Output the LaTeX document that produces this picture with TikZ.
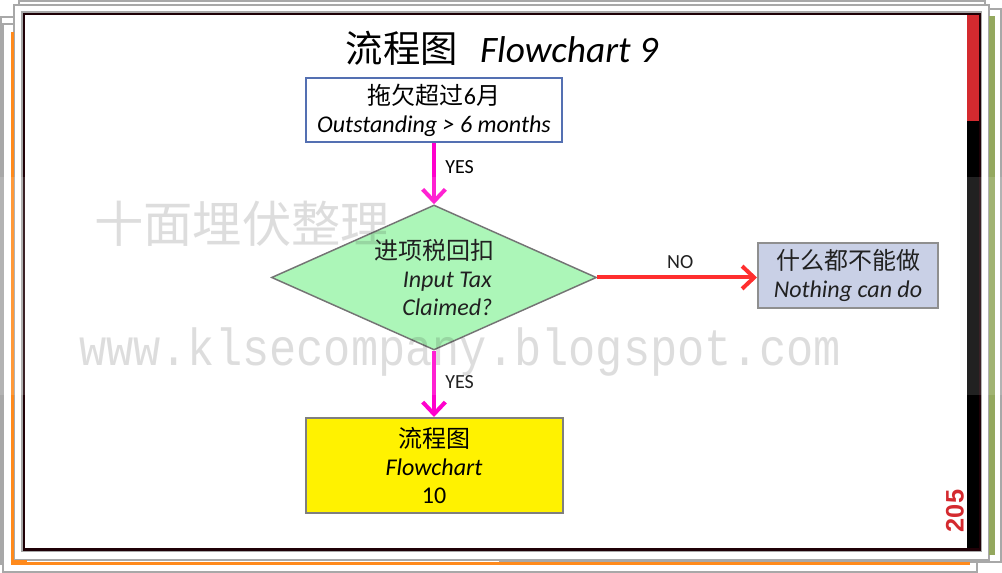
\documentclass[tikz,border=0pt]{standalone}
\usepackage{fontspec}
\setmainfont{Carlito}
\newfontfamily\cjk{Noto Sans CJK SC}
\newfontfamily\numfont{Liberation Sans}
\newfontfamily\wmfont{Liberation Mono}
\usepackage{graphicx}
\usepackage{xcolor}
\usepackage{tikz}
\usetikzlibrary{shapes.geometric, arrows.meta, positioning, calc}
\definecolor{framedark}{HTML}{1F0006}
\definecolor{pagegray}{HTML}{A8A8A8}
\definecolor{pageorange}{HTML}{FF8A1C}
\definecolor{pagegreen}{HTML}{94A85E}
\definecolor{stripred}{HTML}{D42A2F}
\definecolor{boxblue}{HTML}{5470B2}
\definecolor{boxgray}{HTML}{7F7F7F}
\definecolor{decgreen}{HTML}{A0F5AE}
\definecolor{decedge}{HTML}{606060}
\definecolor{lavender}{HTML}{C2CAE3}
\definecolor{yesmagenta}{HTML}{FF00CC}
\definecolor{nored}{HTML}{FF0F0F}
\tikzset{
  txt/.style={font=\fontsize{18pt}{21pt}\selectfont, align=center, text=black},
  card/.style={txt, draw=#1, line width=1.5pt, inner sep=0pt},
  card/.default=boxgray,
  decide/.style={txt, diamond, draw=decedge, fill=decgreen, line width=1.1pt, inner sep=0pt, aspect=2.24},
  flow/.style={-{Straight Barb[length=9pt, width=17pt]}, line width=3pt, color=#1},
  flow/.default=yesmagenta,
  tag/.style={font=\fontsize{15pt}{18pt}\selectfont, text=black, inner sep=1pt},
  sheet/.style={draw=pagegray, line width=1.2pt, fill=white},
  wmark/.style={text=black, text opacity=0.15, inner sep=0pt},
}

\begin{document}
\begin{tikzpicture}[x=0.75pt, y=-0.75pt]
  \useasboundingbox (0,0) rectangle (1002,573);
  % stacked sheets behind the slide
  \draw[sheet] (1,17) rectangle (970,564);
  \draw[sheet] (3,24) rectangle (977,572);
  \draw[sheet] (500,9) rectangle (1001,562);
  \draw[sheet] (19,1) rectangle (985,300);
  \draw[sheet] (14,5) rectangle (989,560);
  \fill[pagegreen] (989,16) rectangle (995,555);
  \fill[pageorange] (11,32) rectangle (14,565);
  \fill[pageorange] (11,562) rectangle (970,565);
  \fill[pageorange] (11,560) rectangle (27,565);
  % slide
  \draw[sheet] (22,12) rectangle (981.5,551.5);
  \draw[framedark, line width=2.2pt] (24,14) rectangle (980,549.5);
  \fill[stripred] (967,15.5) rectangle (979,121);
  \fill[black] (967,121) rectangle (979,548);
  \node[rotate=90, text=stripred, inner sep=0pt, font=\numfont\bfseries\fontsize{19pt}{19pt}\selectfont] (pageno) at (955,511) {205};

  % flowchart
  \node[font=\fontsize{28pt}{32pt}\selectfont] (title) at (502,48) {{\cjk 流程图}\hspace{0.6em}\textit{Flowchart 9}};
  \node[card=boxblue, minimum width=192pt, minimum height=48pt] (owed) at (434,110)
    {{\cjk 拖欠超过}6{\cjk 月}\\\textit{Outstanding > 6 months}};
  \node[decide, minimum width=243.75pt, minimum height=108.75pt] (claim) at (434,277.5)
    {{\cjk 进项税回扣}\\\hspace*{20pt}\textit{Input Tax}\\\hspace*{20pt}\textit{Claimed?}};
  \node[card, fill=lavender, minimum width=135pt, minimum height=48.75pt] (nothing) at (848,275.5)
    {{\cjk 什么都不能做}\\\textit{Nothing can do}};
  \node[card, fill=yellow, minimum width=192.75pt, minimum height=71.25pt] (next) at (434,465.5)
    {{\cjk 流程图}\\\textit{Flowchart}\\10};

  \draw[flow] (owed) -- node[tag, pos=0.4, right=6pt] (yesa) {YES} (claim);
  \draw[flow=nored] (claim.east) -- node[tag, pos=0.52, above=4pt] (no) {NO} (claim.east -| nothing.west);
  \draw[flow] (claim) -- node[tag, pos=0.47, right=6pt] (yesb) {YES} (next);

  % watermark
  \node[wmark, font=\cjk\fontsize{37pt}{37pt}\selectfont] (wmname) at (242,224) {十面埋伏整理};
  \node[wmark, font=\wmfont\fontsize{34pt}{34pt}\selectfont] (wmsite) at (460,352)
    {\scalebox{1}[1.15]{www.klsecompany.blogspot.com}};
  \fill[white, opacity=0.13] (0,177) rectangle (1002,395);
\end{tikzpicture}
\end{document}
